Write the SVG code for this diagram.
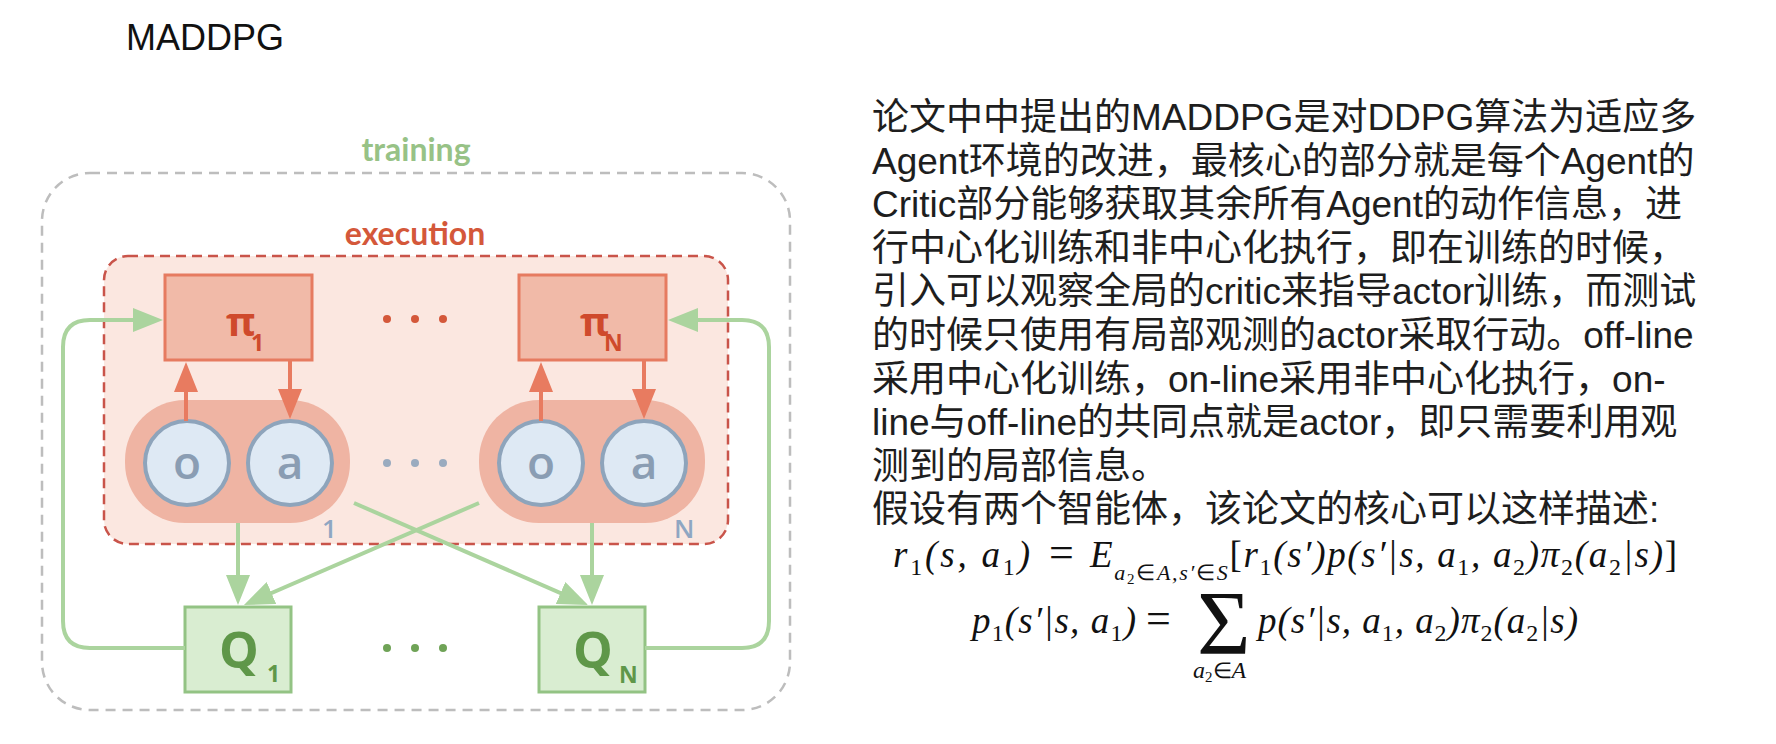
<svg xmlns="http://www.w3.org/2000/svg" width="1776" height="744" viewBox="0 0 1776 744">
<style>
.title{font-family:"Liberation Sans",Arial,sans-serif;font-size:36px;fill:#111}
.lbl{font-family:Lato,"Open Sans",sans-serif;font-weight:700;font-size:32px}
.pi{font-family:"Open Sans",sans-serif;font-weight:700;font-size:40px;fill:#cf4a2c}
.pis{font-family:"Open Sans",sans-serif;font-weight:700;font-size:23px;fill:#cf4a2c}
.q{font-family:"Open Sans",sans-serif;font-weight:700;font-size:50px;fill:#5f9749}
.qs{font-family:"Open Sans",sans-serif;font-weight:700;font-size:23px;fill:#5f9749}
.oa{font-family:"Open Sans",sans-serif;font-weight:600;font-size:46px;fill:#8a9db3;text-anchor:middle}
.idx{font-family:"Open Sans",sans-serif;font-weight:600;font-size:26px;fill:#8fa6c2}
.pibox{fill:#f1baa8;stroke:#e67b60;stroke-width:3}
.qbox{fill:#d9edd1;stroke:#93c384;stroke-width:3}
.blob{fill:#efb4a3}
.circ{fill:#dee9f4;stroke:#8ea4bb;stroke-width:4}
.g{fill:none;stroke:#abd49e;stroke-width:4}
.r{fill:none;stroke:#e87b60;stroke-width:4}
.cjk{font-family:"Liberation Sans","Noto Sans CJK SC",sans-serif;font-size:37px;fill:#1e1e1e}
.m{font-family:"Liberation Serif","Times New Roman",serif;font-style:italic;font-size:37px;fill:#111}
.up{font-style:normal}
.sb{font-size:24px;font-style:normal}
.ss{font-size:15px;font-style:normal}
.si{font-size:22px}
.sj{font-size:22px;font-style:normal}
</style>
<defs>
<marker id="ag" markerUnits="userSpaceOnUse" markerWidth="30" markerHeight="24" refX="22" refY="12" orient="auto">
<path d="M0,0 L30,12 L0,24 z" fill="#abd49e"/>
</marker>
<marker id="ar" markerUnits="userSpaceOnUse" markerWidth="30" markerHeight="24" refX="22" refY="12" orient="auto">
<path d="M0,0 L30,12 L0,24 z" fill="#e87b60"/>
</marker>
</defs>
<rect width="1776" height="744" fill="#ffffff"/>

<g id="title"><text class="title" x="126" y="50">MADDPG</text></g>

<g id="training">
<rect x="42" y="173" width="748" height="537" rx="48" fill="none" stroke="#bdbdbd" stroke-width="2.5" stroke-dasharray="10 7"/>
<text class="lbl" x="416" y="161" text-anchor="middle" fill="#97c286">training</text>
</g>

<g id="execution">
<rect x="104" y="256" width="624" height="288" rx="24" fill="#fbe7e0" stroke="#c9544a" stroke-width="2.5" stroke-dasharray="10 6"/>
<text class="lbl" x="415" y="245" text-anchor="middle" fill="#d4583a">execution</text>
</g>

<g id="agent1">
<rect class="blob" x="125" y="400" width="225" height="123" rx="60"/>
<circle class="circ" cx="187" cy="463" r="42"/>
<circle class="circ" cx="290" cy="463" r="42"/>
<text class="oa" x="187" y="479">o</text>
<text class="oa" x="290" y="479">a</text>
<text class="idx" x="322" y="538">1</text>
</g>

<g id="agentN">
<rect class="blob" x="479" y="400" width="226" height="123" rx="60"/>
<circle class="circ" cx="541" cy="463" r="42"/>
<circle class="circ" cx="644" cy="463" r="42"/>
<text class="oa" x="541" y="479">o</text>
<text class="oa" x="644" y="479">a</text>
<text class="idx" x="674" y="538">N</text>
</g>

<g id="pi1">
<rect class="pibox" x="165" y="275" width="147" height="85"/>
<text class="pi" x="226" y="336">π</text><text class="pis" x="251" y="351">1</text>
</g>

<g id="piN">
<rect class="pibox" x="519" y="275" width="147" height="85"/>
<text class="pi" x="580" y="336">π</text><text class="pis" x="604" y="351">N</text>
</g>

<g id="q1">
<rect class="qbox" x="185" y="607" width="106" height="85"/>
<text class="q" x="219" y="668">Q</text><text class="qs" x="267" y="682">1</text>
</g>

<g id="qN">
<rect class="qbox" x="539" y="607" width="106" height="85"/>
<text class="q" x="573" y="668">Q</text><text class="qs" x="619" y="683">N</text>
</g>

<g id="ellipses">
<g fill="#d4583a"><circle cx="387" cy="319" r="4"/><circle cx="415" cy="319" r="4"/><circle cx="443" cy="319" r="4"/></g>
<g fill="#9aabbf"><circle cx="387" cy="463" r="4"/><circle cx="415" cy="463" r="4"/><circle cx="443" cy="463" r="4"/></g>
<g fill="#6fa357"><circle cx="387" cy="648" r="4"/><circle cx="415" cy="648" r="4"/><circle cx="443" cy="648" r="4"/></g>
</g>

<g id="connectors">
<line class="r" x1="186" y1="421" x2="186" y2="370" marker-end="url(#ar)"/>
<line class="r" x1="290" y1="360" x2="290" y2="411" marker-end="url(#ar)"/>
<line class="r" x1="541" y1="421" x2="541" y2="370" marker-end="url(#ar)"/>
<line class="r" x1="644" y1="360" x2="644" y2="411" marker-end="url(#ar)"/>
<line class="g" x1="238" y1="523" x2="238" y2="597" marker-end="url(#ag)"/>
<line class="g" x1="592" y1="523" x2="592" y2="597" marker-end="url(#ag)"/>
<line class="g" x1="354" y1="503" x2="580.7" y2="601.8" marker-end="url(#ag)"/>
<line class="g" x1="479" y1="503" x2="251.3" y2="601.8" marker-end="url(#ag)"/>
<path class="g" d="M185,648 H90 Q63,648 63,621 V347 Q63,320 90,320 H155" marker-end="url(#ag)"/>
<path class="g" d="M645,648 H742 Q769,648 769,621 V347 Q769,320 742,320 H676" marker-end="url(#ag)"/>
</g>

<g id="description">
<text class="cjk" x="872" y="130">论文中中提出的MADDPG是对DDPG算法为适应多</text>
<text class="cjk" x="872" y="174">Agent环境的改进，最核心的部分就是每个Agent的</text>
<text class="cjk" x="872" y="217">Critic部分能够获取其余所有Agent的动作信息，进</text>
<text class="cjk" x="872" y="261">行中心化训练和非中心化执行，即在训练的时候，</text>
<text class="cjk" x="872" y="304">引入可以观察全局的critic来指导actor训练，而测试</text>
<text class="cjk" x="872" y="348">的时候只使用有局部观测的actor采取行动。off-line</text>
<text class="cjk" x="872" y="392">采用中心化训练，on-line采用非中心化执行，on-</text>
<text class="cjk" x="872" y="435">line与off-line的共同点就是actor，即只需要利用观</text>
<text class="cjk" x="872" y="479">测到的局部信息。</text>
<text class="cjk" x="872" y="522">假设有两个智能体，该论文的核心可以这样描述:</text>
</g>

<g id="formula1">
<text class="m" x="893" y="567" textLength="137" lengthAdjust="spacing">r<tspan class="sb" dy="8">1</tspan><tspan dy="-8">(s, a</tspan><tspan class="sb" dy="8">1</tspan><tspan dy="-8">)</tspan></text>
<text class="m up" x="1049" y="567" style="font-size:44px">=</text>
<text class="m" x="1090" y="567" textLength="587" lengthAdjust="spacing">E<tspan class="si" dy="13">a</tspan><tspan class="ss" dy="4">2</tspan><tspan class="sj" dy="-4">∈</tspan><tspan class="si">A,s′</tspan><tspan class="sj">∈</tspan><tspan class="si">S</tspan><tspan class="up" dy="-13">[</tspan>r<tspan class="sb" dy="8">1</tspan><tspan dy="-8">(s′)p(s′|s, a</tspan><tspan class="sb" dy="8">1</tspan><tspan dy="-8">, a</tspan><tspan class="sb" dy="8">2</tspan><tspan dy="-8">)π</tspan><tspan class="sb" dy="8">2</tspan><tspan dy="-8">(a</tspan><tspan class="sb" dy="8">2</tspan><tspan dy="-8">|s)</tspan><tspan class="up">]</tspan></text>
</g>

<g id="formula2">
<text class="m" x="972" y="633" textLength="164" lengthAdjust="spacing">p<tspan class="sb" dy="8">1</tspan><tspan dy="-8">(s′|s, a</tspan><tspan class="sb" dy="8">1</tspan><tspan dy="-8">)</tspan></text>
<text class="m up" x="1146" y="633" style="font-size:44px">=</text>
<text class="m up" x="1197" y="654" style="font-size:92px">Σ</text>
<text class="m" x="1193" y="678" style="font-size:24px">a<tspan class="ss" dy="4">2</tspan><tspan class="sj" dy="-4">∈</tspan>A</text>
<text class="m" x="1258" y="633" textLength="320" lengthAdjust="spacing">p(s′|s, a<tspan class="sb" dy="8">1</tspan><tspan dy="-8">, a</tspan><tspan class="sb" dy="8">2</tspan><tspan dy="-8">)π</tspan><tspan class="sb" dy="8">2</tspan><tspan dy="-8">(a</tspan><tspan class="sb" dy="8">2</tspan><tspan dy="-8">|s)</tspan></text>
</g>
</svg>
